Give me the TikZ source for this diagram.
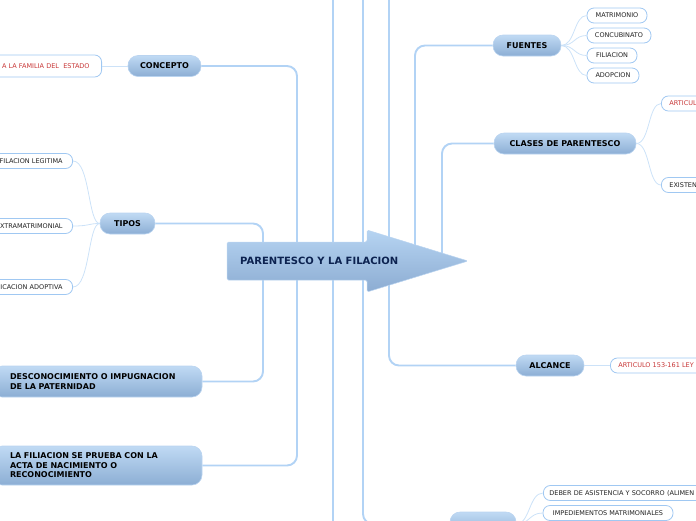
\documentclass[tikz,border=0pt]{standalone}
\usepackage{fontspec}
\setmainfont{DejaVu Sans}
\definecolor{mtop}{RGB}{192,218,244}
\definecolor{mbot}{RGB}{140,174,212}
\definecolor{mborder}{RGB}{186,212,240}
\definecolor{lborder}{RGB}{160,200,242}
\definecolor{ltext}{RGB}{34,34,34}
\definecolor{redtxt}{RGB}{200,55,55}
\definecolor{navy}{RGB}{12,34,80}
\definecolor{connc}{RGB}{178,211,245}
\definecolor{thinc}{RGB}{204,226,248}
\definecolor{atop}{RGB}{182,212,242}
\definecolor{abot}{RGB}{140,172,210}
\begin{document}
\begin{tikzpicture}[x=1pt,y=-1pt,
  conn/.style={draw=connc, line width=1.9pt, rounded corners=10pt},
  thinconn/.style={draw=thinc, line width=0.8pt},
  mainbox/.style={rounded corners=10pt, top color=mtop, bottom color=mbot, draw=mborder, line width=0.6pt, font=\fontsize{8}{9.5}\selectfont\bfseries, text=black, inner sep=0pt},
  leaf/.style={rounded corners=7pt, fill=white, draw=lborder, line width=0.8pt, font=\fontsize{6.5}{8}\selectfont, text=ltext, inner sep=0pt, minimum height=15pt, text height=4.8pt, text depth=0pt},
  redleaf/.style={leaf, text=redtxt},
]
\useasboundingbox (0,0) rectangle (696,520);
% hub coordinates
\coordinate (hA) at (297,261);
\coordinate (hB) at (263,261);
\coordinate (hC) at (415,261);
\coordinate (hD) at (442,261);
\coordinate (t333) at (333,-6);
\coordinate (b333) at (333,526);
\coordinate (t363) at (363,-6);
\coordinate (t389) at (389,-6);

% main topics
\node[mainbox, minimum width=73pt, minimum height=21pt] (concepto) at (164.5,66) {CONCEPTO};
\node[mainbox, minimum width=55pt, minimum height=21pt] (tipos) at (127.5,223.5) {TIPOS};
\node[mainbox, text width=174pt, align=left, inner xsep=18pt, minimum height=31pt] (desc) at (97,381.5) {DESCONOCIMIENTO O IMPUGNACION\\DE LA PATERNIDAD};
\node[mainbox, text width=174pt, align=left, inner xsep=18pt, minimum height=39pt] (prueba) at (97,465.5) {LA FILIACION SE PRUEBA CON LA\\ACTA DE NACIMIENTO O\\RECONOCIMIENTO};
\node[mainbox, minimum width=68pt, minimum height=21pt] (fuentes) at (527,45.5) {FUENTES};
\node[mainbox, minimum width=142pt, minimum height=21pt] (clases) at (565,143.5) {CLASES DE PARENTESCO};
\node[mainbox, minimum width=68pt, minimum height=21pt] (alcance) at (550,365.5) {ALCANCE};
\node[mainbox, minimum width=66pt, minimum height=24pt] (deberes) at (483,524) {};

% leaves left
\node[redleaf, anchor=east, text width=90pt, align=right, inner xsep=12pt, minimum height=22pt] (familia) at (102,66) {A LA FAMILIA DEL~~ESTADO};
\node[leaf, anchor=east, text width=80pt, align=right, inner xsep=10pt] (legit) at (73,161) {FILACION LEGITIMA};
\node[leaf, anchor=east, text width=80pt, align=right, inner xsep=10pt] (extra) at (73,226) {EXTRAMATRIMONIAL};
\node[leaf, anchor=east, text width=80pt, align=right, inner xsep=10pt] (adopt) at (73,287) {ICACION ADOPTIVA};

% leaves right
\node[leaf, minimum width=60pt] (matri) at (617,15.5) {MATRIMONIO};
\node[leaf, minimum width=64pt] (concu) at (619,35.5) {CONCUBINATO};
\node[leaf, minimum width=50pt] (filia) at (612,55.5) {FILIACION};
\node[leaf, minimum width=52pt] (adopc) at (613,75.5) {ADOPCION};
\node[redleaf, anchor=west, text width=80pt, align=left, inner xsep=8pt] (artic) at (661,103.5) {ARTICUL};
\node[leaf, anchor=west, text width=80pt, align=left, inner xsep=8pt] (exist) at (661,185) {EXISTEN};
\node[redleaf, anchor=west, text width=100pt, align=left, inner xsep=8pt] (artley) at (610,365.5) {ARTICULO 153-161 LEY};
\node[leaf, anchor=west, text width=180pt, align=left, inner xsep=6pt] (deber) at (543,493) {DEBER DE ASISTENCIA Y SOCORRO (ALIMEN};
\node[leaf, minimum width=130pt] (imped) at (608,513) {IMPEDIEMENTOS MATRIMONIALES};

% main connectors
\draw[conn] (concepto.east) -| (hA);
\draw[conn] (prueba.east) -| (hA);
\draw[conn] (tipos.east) -| (hB);
\draw[conn] (desc.east) -| (hB);
\draw[conn] (fuentes.west) -| (hC);
\draw[conn] (clases.west) -| (hD);
\draw[conn] (alcance.west) -| (t389);
\draw[conn] (deberes.west) -| (t363);
\draw[conn] (t333) -- (b333);

% thin connectors
\draw[thinconn] (familia.east) -- (concepto.west);
\draw[thinconn] (alcance.east) -- (artley.west);
\draw[thinconn] (tipos.west) .. controls (88,223.5) and (90,161) .. (legit.east);
\draw[thinconn] (tipos.west) .. controls (88,223.5) and (90,226) .. (extra.east);
\draw[thinconn] (tipos.west) .. controls (88,223.5) and (90,287) .. (adopt.east);
\draw[thinconn] (fuentes.east) .. controls (575,45.5) and (574,15.5) .. (matri.west);
\draw[thinconn] (fuentes.east) .. controls (575,45.5) and (574,35.5) .. (concu.west);
\draw[thinconn] (fuentes.east) .. controls (575,45.5) and (574,55.5) .. (filia.west);
\draw[thinconn] (fuentes.east) .. controls (575,45.5) and (574,75.5) .. (adopc.west);
\draw[thinconn] (clases.east) .. controls (650,143.5) and (648,103.5) .. (artic.west);
\draw[thinconn] (clases.east) .. controls (650,143.5) and (648,185) .. (exist.west);
\draw[thinconn] (deberes.east) .. controls (530,524) and (529,493) .. (deber.west);
\draw[thinconn] (deberes.east) .. controls (530,524) and (529,513) .. (imped.west);

% central arrow
\path[top color=atop, bottom color=abot, draw=mborder, line width=0.5pt, rounded corners=1.5pt]
  (227,242) -- (367,242) -- (367,230) -- (468,261) -- (367,292) -- (367,280) -- (227,280) -- cycle;
\node[anchor=west, inner sep=0pt, font=\fontsize{10}{12}\selectfont\bfseries, text=navy] (central) at (240,261) {PARENTESCO Y LA FILACION};
\end{tikzpicture}
\end{document}
